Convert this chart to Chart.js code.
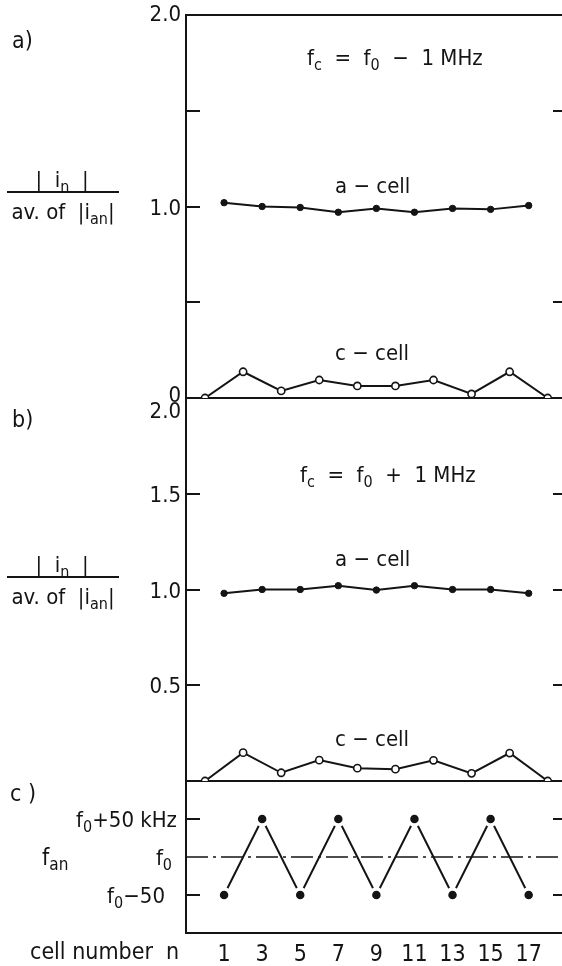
<!DOCTYPE html>
<html>
<head>
<meta charset="utf-8">
<script src="https://cdn.jsdelivr.net/npm/chart.js@4/dist/chart.umd.min.js"></script>
<style>
  html, body { margin: 0; padding: 0; background: #fff; }
  canvas { display: block; }
</style>
</head>
<body>
<canvas id="cells" width="562" height="966"></canvas>
<script>
'use strict';

const INK = '#141414';
const FONT = "'DejaVu Sans Condensed', 'DejaVu Sans', sans-serif";

// cell numbers: a-cells sit on odd n, c-cells on even n
const cellOdd = [1, 3, 5, 7, 9, 11, 13, 15, 17];
const cellEven = [0, 2, 4, 6, 8, 10, 12, 14, 16, 18];
const cellTicks = [1, 3, 5, 7, 9, 11, 13, 15, 17];

// a) fc = f0 - 1 MHz
const aCellLow = [1.02, 1.0, 0.995, 0.97, 0.99, 0.97, 0.99, 0.985, 1.005];
const cCellLow = [0, 0.137, 0.037, 0.094, 0.063, 0.063, 0.094, 0.021, 0.137, 0];

// b) fc = f0 + 1 MHz
const aCellHigh = [0.98, 1.0, 1.0, 1.02, 0.997, 1.02, 1.0, 1.0, 0.98];
const cCellHigh = [0, 0.148, 0.043, 0.109, 0.067, 0.062, 0.108, 0.04, 0.146, 0];

// c) a-cell tuning offset from f0, kHz
const fanOffset = [-50, 50, -50, 50, -50, 50, -50, 50, -50];

// y tick labels per panel ("_{..}" marks a subscript)
const tickValuesA = [2, 1, 0];
const tickLabelsA = ['2.0', '1.0', '0'];
const tickValuesB = [2, 1.5, 1, 0.5];
const tickLabelsB = ['2.0', '1.5', '1.0', '0.5'];
const tickValuesC = [50, 0, -50];
const tickLabelsC = ['f_{0}+50 kHz', 'f_{0}', 'f_{0}\u221250'];

const X_MIN = -1;
const X_MAX = 18.75;

function pairs(xs, ys) {
  return xs.map((x, i) => ({ x: x, y: ys[i] }));
}

// draws text with "_{..}" subscripts, y is the baseline
function drawRich(ctx, src, x, y, size, align) {
  const bits = src.split(/_\{([^}]*)\}/);
  const subSize = Math.round(size * 0.72);
  const fontFor = i => (i % 2 ? subSize : size) + 'px ' + FONT;
  const widths = bits.map((t, i) => { ctx.font = fontFor(i); return ctx.measureText(t).width; });
  const total = widths.reduce((a, b) => a + b, 0);
  let cx = align === 'right' ? x - total : align === 'center' ? x - total / 2 : x;
  ctx.textAlign = 'left';
  ctx.textBaseline = 'alphabetic';
  bits.forEach((t, i) => {
    ctx.font = fontFor(i);
    ctx.fillText(t, cx, i % 2 ? y + size * 0.22 : y);
    cx += widths[i];
  });
}

const panelText = {
  id: 'panelText',
  afterDraw(chart) {
    const ctx = chart.ctx;
    const area = chart.chartArea;
    const { yA, yB, yC } = chart.scales;
    ctx.save();
    ctx.fillStyle = INK;
    ctx.strokeStyle = INK;
    ctx.lineWidth = 2;

    // inward tick marks, both sides
    const marks = [
      [yA, [1.5, 1, 0.5], [1.5, 0.5]],
      [yB, [1.5, 1, 0.5], [1.5, 1, 0.5]],
      [yC, [50, -50], [50, -50]]
    ];
    ctx.beginPath();
    marks.forEach(([scale, left, right]) => {
      left.forEach(v => {
        const y = Math.round(scale.getPixelForValue(v));
        ctx.moveTo(area.left, y); ctx.lineTo(area.left + 14, y);
      });
      right.forEach(v => {
        const y = Math.round(scale.getPixelForValue(v));
        ctx.moveTo(area.right - 9, y); ctx.lineTo(area.right, y);
      });
    });
    ctx.stroke();

    // y tick labels
    const lx = area.left - 5;
    tickValuesA.forEach((v, i) => {
      const dy = v === 0 ? -4 : v === 2 ? -2 : 0;
      drawRich(ctx, tickLabelsA[i], lx, yA.getPixelForValue(v) + 8 + dy, 22, 'right');
    });
    tickValuesB.forEach((v, i) => {
      const dy = v === 2 ? 12 : 0;
      drawRich(ctx, tickLabelsB[i], lx, yB.getPixelForValue(v) + 8 + dy, 22, 'right');
    });
    const nudgeC = { 50: 0, 0: -5, '-50': -12 };
    tickValuesC.forEach((v, i) => {
      drawRich(ctx, tickLabelsC[i], lx - 4 + nudgeC[v], yC.getPixelForValue(v) + 8, 22, 'right');
    });

    // panel letters
    drawRich(ctx, 'a)', 12, 48, 23, 'left');
    drawRich(ctx, 'b)', 12, 427, 23, 'left');
    drawRich(ctx, 'c )', 10, 801, 23, 'left');

    // ratio axis titles
    [192, 577].forEach(bar => {
      drawRich(ctx, '|  i_{n}  |', 62, bar - 5, 22, 'center');
      ctx.fillRect(7, bar - 1, 112, 2);
      drawRich(ctx, 'av. of  |i_{an}|', 63, bar + 27, 22, 'center');
    });
    drawRich(ctx, 'f_{an}', 42, 865, 23, 'left');
    drawRich(ctx, 'cell number  n', 30, 959, 23, 'left');

    // in-panel notes
    drawRich(ctx, 'f_{c}  =  f_{0}  \u2212  1 MHz', 307, 65, 22, 'left');
    drawRich(ctx, 'a \u2212 cell', 335, 193, 22, 'left');
    drawRich(ctx, 'c \u2212 cell', 335, 360, 22, 'left');
    drawRich(ctx, 'f_{c}  =  f_{0}  +  1 MHz', 300, 482, 22, 'left');
    drawRich(ctx, 'a \u2212 cell', 335, 566, 22, 'left');
    drawRich(ctx, 'c \u2212 cell', 335, 746, 22, 'left');
    ctx.restore();
  }
};

const filledDots = {
  borderColor: INK, borderWidth: 2,
  pointRadius: 3.2, pointBackgroundColor: INK, pointBorderColor: INK, pointBorderWidth: 1,
  tension: 0, fill: false
};
const openDots = {
  borderColor: INK, borderWidth: 2,
  pointRadius: 3.6, pointBackgroundColor: '#fff', pointBorderColor: INK, pointBorderWidth: 1.6,
  tension: 0, fill: false
};

function ruleAt(values) {
  return c => (values.includes(c.tick.value) ? INK : 'rgba(0,0,0,0)');
}

function panelAxis(weight, stackWeight, min, max, step, rules) {
  return {
    type: 'linear', position: 'left', stack: 'panels',
    weight: weight, stackWeight: stackWeight,
    min: min, max: max,
    ticks: { stepSize: step, display: false },
    grid: { drawTicks: false, lineWidth: 2, color: ruleAt(rules) },
    border: { display: true, color: INK, width: 2 },
    afterFit: s => { s.width = 186; s.paddingTop = 0; s.paddingBottom = 0; }
  };
}

new Chart(document.getElementById('cells'), {
  type: 'line',
  data: {
    datasets: [
      Object.assign({ data: pairs(cellOdd, aCellLow), yAxisID: 'yA' }, filledDots),
      Object.assign({ data: pairs(cellEven, cCellLow), yAxisID: 'yA' }, openDots),
      Object.assign({ data: pairs(cellOdd, aCellHigh), yAxisID: 'yB' }, filledDots),
      Object.assign({ data: pairs(cellEven, cCellHigh), yAxisID: 'yB' }, openDots),
      // white ring leaves the small gap between the zigzag and each dot
      {
        data: pairs(cellOdd, fanOffset), yAxisID: 'yC',
        borderColor: INK, borderWidth: 2, tension: 0,
        pointRadius: 6, pointBackgroundColor: INK, pointBorderColor: '#fff', pointBorderWidth: 3.5
      },
      {
        data: pairs([X_MIN, X_MAX], [0, 0]), yAxisID: 'yC',
        borderColor: INK, borderWidth: 1.5, borderDash: [22, 5, 3, 5], pointRadius: 0
      }
    ]
  },
  options: {
    responsive: false,
    animation: false,
    devicePixelRatio: 1,
    layout: { autoPadding: false, padding: { top: 15, left: 0, right: 0, bottom: 0 } },
    plugins: { legend: { display: false }, tooltip: { enabled: false } },
    scales: {
      x: {
        type: 'linear', min: X_MIN, max: X_MAX,
        grid: { display: false },
        border: { display: true, color: INK, width: 2 },
        ticks: { color: INK, font: { family: FONT, size: 23 }, padding: 0, maxRotation: 0, autoSkip: false },
        afterBuildTicks: s => { s.ticks = cellTicks.map(v => ({ value: v })); },
        afterFit: s => { s.height = 33; s.paddingLeft = 0; s.paddingRight = 0; }
      },
      yA: panelAxis(3, 383, 0, 2, 0.5, [0, 2]),
      yB: panelAxis(2, 383, 0, 2, 0.5, [0, 2]),
      yC: panelAxis(1, 152, -100, 100, 50, [])
    }
  },
  plugins: [panelText]
});
</script>
</body>
</html>
